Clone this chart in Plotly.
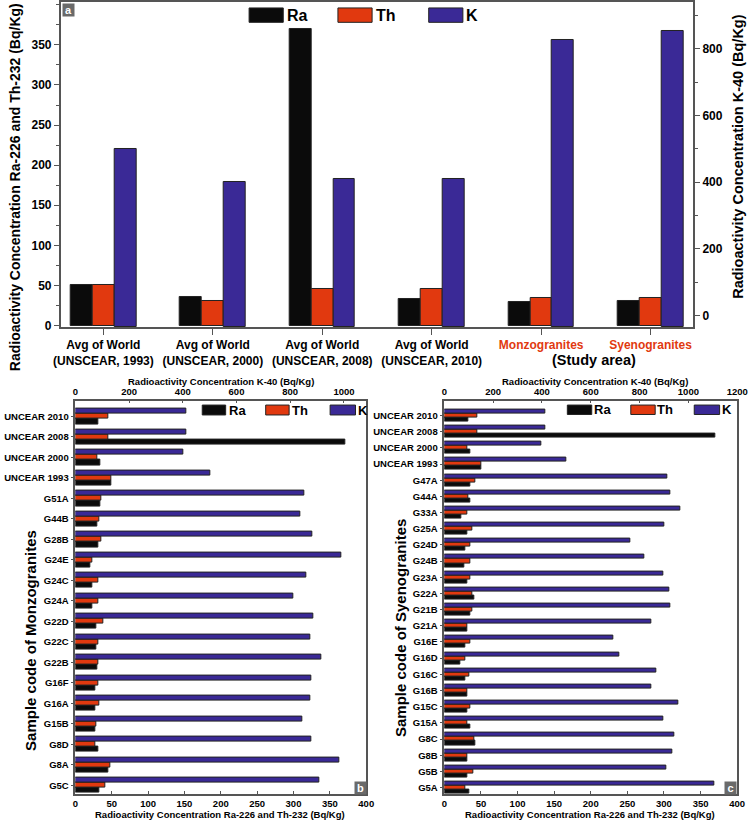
import plotly.graph_objects as go

W, H = 756, 827


def px(x):
    return x / W


def py(y):
    return 1 - y / H


RA_COLOR = "#0b0b0b"
TH_COLOR = "#e1390f"
K_COLOR = "#3a2996"
EDGE = "#222222"
AXIS = "#555555"

FONT = "Liberation Sans, Arial, sans-serif"

# ---------------- Panel a data ----------------
a_categories = [
    "Avg of World<br>(UNSCEAR, 1993)",
    "Avg of World<br>(UNSCEAR, 2000)",
    "Avg of World<br>(UNSCEAR, 2008)",
    "Avg of World<br>(UNSCEAR, 2010)",
    "<span style='color:#e1390f'>Monzogranites</span>",
    "<span style='color:#e1390f'>Syenogranites</span>",
]
a_ra = [50, 35, 370, 33, 29, 31]
a_th = [50, 30, 45, 45, 34, 34]
a_k = [500, 400, 410, 410, 827, 854]

# ---------------- Panel b data (top -> bottom) ----------------
b_samples = ["UNCEAR 2010", "UNCEAR 2008", "UNCEAR 2000", "UNCEAR 1993",
             "G51A", "G44B", "G28B", "G24E", "G24C", "G24A", "G22D", "G22C",
             "G22B", "G16F", "G16A", "G15B", "G8D", "G8A", "G5C"]
b_ra = [32, 371, 35, 50, 35, 30, 31, 21, 23, 23, 29, 29, 30, 27, 27, 27, 32, 46, 33]
b_th = [45, 45, 30, 49, 36, 33, 36, 23, 31, 32, 38, 31, 32, 32, 33, 29, 28, 48, 41]
b_k = [413, 413, 401, 502, 854, 837, 881, 990, 859, 813, 887, 875, 914, 878, 875, 846, 878, 982, 908]

# ---------------- Panel c data (top -> bottom) ----------------
c_samples = ["UNCEAR 2010", "UNCEAR 2008", "UNCEAR 2000", "UNCEAR 1993",
             "G47A", "G44A", "G33A", "G25A", "G24D", "G24B", "G23A", "G22A",
             "G21B", "G21A", "G16E", "G16D", "G16C", "G16B", "G15C", "G15A",
             "G8C", "G8B", "G5B", "G5A"]
c_ra = [33, 370, 36, 50, 35, 35, 23, 31, 28, 27, 31, 41, 35, 31, 28, 22, 29, 31, 32, 35, 42, 31, 32, 34]
c_th = [45, 45, 31, 50, 43, 33, 31, 38, 36, 35, 36, 38, 38, 31, 35, 28, 34, 32, 36, 31, 41, 31, 40, 29]
c_k = [412, 412, 398, 498, 913, 925, 969, 902, 763, 821, 897, 921, 925, 847, 694, 719, 867, 847, 958, 898, 942, 934, 909, 1105]

# axis ranges
Y1_RANGE = [-2.1, 403.5]
Y2_RANGE = [-34.8, 940.7]
K_BASE = Y2_RANGE[0]

fig = go.Figure()

line = dict(color=EDGE, width=1)

# Panel a bars
fig.add_trace(go.Bar(x=a_categories, y=a_ra, name="Ra", marker=dict(color=RA_COLOR, line=line),
                     offset=-0.3, width=0.2, xaxis="x", yaxis="y", showlegend=False))
fig.add_trace(go.Bar(x=a_categories, y=a_th, name="Th", marker=dict(color=TH_COLOR, line=line),
                     offset=-0.1, width=0.2, xaxis="x", yaxis="y", showlegend=False))
fig.add_trace(go.Bar(x=a_categories, y=[v - K_BASE for v in a_k], base=K_BASE, name="K",
                     marker=dict(color=K_COLOR, line=line),
                     offset=0.1, width=0.2, xaxis="x", yaxis="y2", showlegend=False))

# Panel b bars
fig.add_trace(go.Bar(y=b_samples, x=b_ra, orientation="h", marker=dict(color=RA_COLOR, line=line),
                     offset=-0.375, width=0.25, xaxis="x2", yaxis="y3", showlegend=False))
fig.add_trace(go.Bar(y=b_samples, x=b_th, orientation="h", marker=dict(color=TH_COLOR, line=line),
                     offset=-0.125, width=0.25, xaxis="x2", yaxis="y3", showlegend=False))
fig.add_trace(go.Bar(y=b_samples, x=b_k, orientation="h", marker=dict(color=K_COLOR, line=line),
                     offset=0.125, width=0.25, xaxis="x3", yaxis="y3", showlegend=False))

# Panel c bars
fig.add_trace(go.Bar(y=c_samples, x=c_ra, orientation="h", marker=dict(color=RA_COLOR, line=line),
                     offset=-0.375, width=0.25, xaxis="x4", yaxis="y4", showlegend=False))
fig.add_trace(go.Bar(y=c_samples, x=c_th, orientation="h", marker=dict(color=TH_COLOR, line=line),
                     offset=-0.125, width=0.25, xaxis="x4", yaxis="y4", showlegend=False))
fig.add_trace(go.Bar(y=c_samples, x=c_k, orientation="h", marker=dict(color=K_COLOR, line=line),
                     offset=0.125, width=0.25, xaxis="x5", yaxis="y4", showlegend=False))


def tick_bold(s):
    return dict(family=FONT, size=s, color="black", weight="bold")


common = dict(showline=True, linecolor=AXIS, linewidth=1.5, tickcolor=AXIS,
              tickwidth=1.2, showgrid=False, zeroline=False)

fig.update_layout(
    width=W, height=H, margin=dict(l=0, r=0, t=0, b=0),
    paper_bgcolor="white", plot_bgcolor="white", barmode="overlay", bargap=0,
    xaxis=dict(domain=[px(55), px(703)], anchor="y", type="category", range=[-0.39, 5.39],
               ticks="outside", ticklen=6, mirror=True, tickangle=0, tickfont=tick_bold(12), **common),
    yaxis=dict(domain=[py(329), py(1)], anchor="x", range=Y1_RANGE,
               tickvals=[0, 50, 100, 150, 200, 250, 300, 350], ticks="outside", ticklen=5,
               minor=dict(dtick=25, ticklen=3, ticks="outside", tickcolor=AXIS),
               tickfont=tick_bold(12), mirror=True, **common),
    yaxis2=dict(overlaying="y", side="right", anchor="x", range=Y2_RANGE,
                tickvals=[0, 200, 400, 600, 800], ticks="outside", ticklen=5,
                minor=dict(dtick=100, ticklen=3, ticks="outside", tickcolor=AXIS),
                tickfont=tick_bold(12), **common),
    # panel b
    xaxis2=dict(domain=[px(70), px(368)], anchor="y3", range=[0, 400], dtick=50,
                ticks="inside", ticklen=3, tickfont=tick_bold(9.5), **common),
    xaxis3=dict(overlaying="x2", side="top", anchor="y3", range=[0, 1083],
                tickvals=[0, 200, 400, 600, 800, 1000], ticks="inside", ticklen=3,
                tickfont=tick_bold(9.5), **common),
    yaxis3=dict(domain=[py(800), py(403)], anchor="x2", type="category",
                categoryorder="array", categoryarray=b_samples[::-1],
                range=[-0.436, 18.775], ticks="outside", ticklen=3, mirror=True,
                tickfont=tick_bold(9.5), **common),
    # panel c
    xaxis4=dict(domain=[px(448), px(748)], anchor="y4", range=[0, 400], dtick=50,
                ticks="inside", ticklen=3, tickfont=tick_bold(9.5), **common),
    xaxis5=dict(overlaying="x4", side="top", anchor="y4", range=[0, 1200],
                tickvals=[0, 200, 400, 600, 800, 1000, 1200], ticks="inside", ticklen=3,
                tickfont=tick_bold(9.5), **common),
    yaxis4=dict(domain=[py(800), py(403)], anchor="x4", type="category",
                categoryorder="array", categoryarray=c_samples[::-1],
                range=[-0.41, 23.92], ticks="outside", ticklen=3, mirror=True,
                tickfont=tick_bold(9.5), **common),
)

shapes = []
annotations = []


def legend(items, y0, y1, font_size):
    for (x0, x1, color, label, tx) in items:
        shapes.append(dict(type="rect", xref="paper", yref="paper",
                           x0=px(x0), x1=px(x1), y0=py(y1), y1=py(y0),
                           fillcolor=color, line=dict(color=EDGE, width=1)))
        annotations.append(dict(xref="paper", yref="paper", x=px(tx), y=py((y0 + y1) / 2),
                                text=label, showarrow=False, xanchor="left", yanchor="middle",
                                font=dict(family=FONT, size=font_size, color="black", weight="bold")))


legend([(248, 283, RA_COLOR, "Ra", 285), (339, 374, TH_COLOR, "Th", 376),
        (432, 467, K_COLOR, "K", 468)], 7, 21.5, 16)
legend([(200, 224, RA_COLOR, "Ra", 225), (265, 289, TH_COLOR, "Th", 290),
        (331, 357, K_COLOR, "K", 357)], 407.5, 417.5, 13)
legend([(574, 599, RA_COLOR, "Ra", 599), (639, 664, TH_COLOR, "Th", 664),
        (704, 730, K_COLOR, "K", 730)], 407.5, 417, 13)


def title(text, x, y, size, angle=0):
    annotations.append(dict(xref="paper", yref="paper", x=px(x), y=py(y), text=text,
                            showarrow=False, textangle=angle, xanchor="center", yanchor="middle",
                            font=dict(family=FONT, size=size, color="black", weight="bold")))


title("Radioactivity Concentration Ra-226 and Th-232 (Bq/Kg)", 9, 188, 14, -90)
title("Radioactivity Concentration K-40 (Bq/Kg)", 749, 157, 14.5, -90)
title("(Study area)", 601, 362, 14.5)
title("Radioactivity Concentration K-40 (Bq/Kg)", 219, 384, 9.5)
title("Radioactivity Concentration Ra-226 and Th-232 (Bq/Kg)", 218, 820, 9.5)
title("Radioactivity Concentration K-40 (Bq/Kg)", 602, 384, 9.5)
title("Radioactivity Concentration Ra-226 and Th-232 (Bq/Kg)", 597, 820, 9.5)
title("Sample code of Monzogranites", 24, 645, 15, -90)
title("Sample code of Syenogranites", 403, 632, 15, -90)

for lab, cx, cy in [("a", 63, 9), ("b", 362, 794), ("c", 741, 794)]:
    annotations.append(dict(xref="paper", yref="paper", x=px(cx), y=py(cy), text=lab,
                            showarrow=False, xanchor="center", yanchor="middle",
                            bgcolor="#6a6a6a", borderpad=1, width=9, height=10,
                            font=dict(family=FONT, size=11, color="white", weight="bold")))

fig.update_layout(shapes=shapes, annotations=annotations)

fig.write_html("out.html")
